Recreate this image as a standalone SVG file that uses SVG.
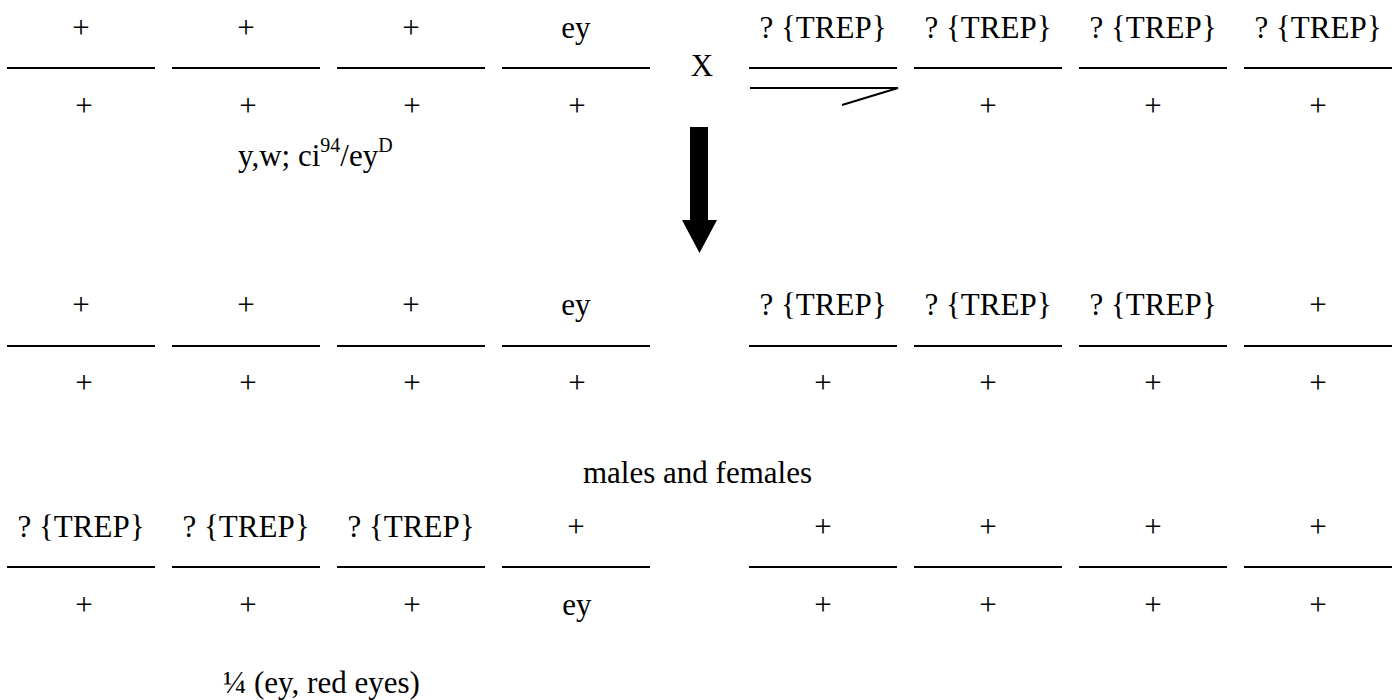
<svg xmlns="http://www.w3.org/2000/svg" width="1400" height="700" viewBox="0 0 1400 700">
<style>
text{font-family:"Liberation Serif","Times New Roman",serif;font-size:31px;fill:#000;text-anchor:middle}
.bar{stroke:#000;stroke-width:2;fill:none}
.lbl{text-anchor:start}
</style>
<rect width="1400" height="700" fill="#fff"/>
<defs>
<path id="seg" d="M0 0H148" class="bar"/>
</defs>
<!-- Row 1 -->
<g id="p-left">
<use href="#seg" x="7" y="68"/><use href="#seg" x="172" y="68"/><use href="#seg" x="337" y="68"/><use href="#seg" x="502" y="68"/>
<text x="81" y="38">+</text><text x="246" y="38">+</text><text x="411" y="38">+</text><text x="576" y="38">ey</text>
<text x="84" y="116">+</text><text x="248" y="116">+</text><text x="412" y="116">+</text><text x="577" y="116">+</text>
</g>
<g id="cross"><text x="702" y="76" font-size="30">X</text></g>
<g id="p-right">
<use href="#seg" x="749" y="68"/><use href="#seg" x="914" y="68"/><use href="#seg" x="1079" y="68"/><use href="#seg" x="1244" y="68"/>
<path d="M750 88H898L842 105" class="bar"/>
<text x="823" y="38">? {TREP}</text><text x="988" y="38">? {TREP}</text><text x="1153" y="38">? {TREP}</text><text x="1318" y="38">? {TREP}</text>
<text x="988" y="116">+</text><text x="1153" y="116">+</text><text x="1318" y="116">+</text>
</g>
<g id="label-top"><text class="lbl" x="238" y="166">y,w; ci<tspan font-size="20" dy="-14">94</tspan><tspan dy="14">/ey</tspan><tspan font-size="20" dy="-14">D</tspan></text></g>
<!-- Arrow -->
<g id="connectors">
<path d="M690 127H708V220H717L699.5 253L682 220H690Z" fill="#000"/>
</g>
<!-- Row 2 -->
<g id="f1-left">
<use href="#seg" x="7" y="346"/><use href="#seg" x="172" y="346"/><use href="#seg" x="337" y="346"/><use href="#seg" x="502" y="346"/>
<text x="81" y="315">+</text><text x="246" y="315">+</text><text x="411" y="315">+</text><text x="576" y="315">ey</text>
<text x="84" y="393">+</text><text x="248" y="393">+</text><text x="412" y="393">+</text><text x="577" y="393">+</text>
</g>
<g id="f1-right">
<use href="#seg" x="749" y="346"/><use href="#seg" x="914" y="346"/><use href="#seg" x="1079" y="346"/><use href="#seg" x="1244" y="346"/>
<text x="823" y="315">? {TREP}</text><text x="988" y="315">? {TREP}</text><text x="1153" y="315">? {TREP}</text><text x="1318" y="315">+</text>
<text x="823" y="393">+</text><text x="988" y="393">+</text><text x="1153" y="393">+</text><text x="1318" y="393">+</text>
</g>
<g id="label-mid"><text class="lbl" x="583" y="483">males and females</text></g>
<!-- Row 3 -->
<g id="f2-left">
<use href="#seg" x="7" y="567"/><use href="#seg" x="172" y="567"/><use href="#seg" x="337" y="567"/><use href="#seg" x="502" y="567"/>
<text x="81" y="537">? {TREP}</text><text x="246" y="537">? {TREP}</text><text x="411" y="537">? {TREP}</text><text x="576" y="537">+</text>
<text x="84" y="615">+</text><text x="248" y="615">+</text><text x="412" y="615">+</text><text x="577" y="615">ey</text>
</g>
<g id="f2-right">
<use href="#seg" x="749" y="567"/><use href="#seg" x="914" y="567"/><use href="#seg" x="1079" y="567"/><use href="#seg" x="1244" y="567"/>
<text x="823" y="537">+</text><text x="988" y="537">+</text><text x="1153" y="537">+</text><text x="1318" y="537">+</text>
<text x="823" y="615">+</text><text x="988" y="615">+</text><text x="1153" y="615">+</text><text x="1318" y="615">+</text>
</g>
<g id="label-bottom"><text class="lbl" x="223" y="693">¼ (ey, red eyes)</text></g>
</svg>
